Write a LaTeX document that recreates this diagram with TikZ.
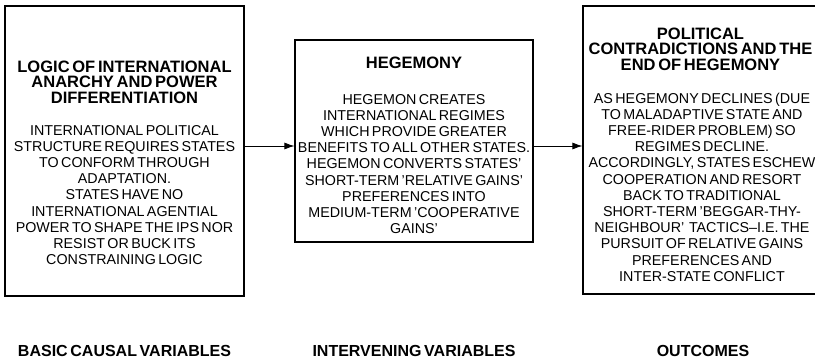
\documentclass[tikz,border=0pt]{standalone}
\usepackage{fontspec}
\setmainfont[WordSpace=0.6]{Liberation Sans}
\usetikzlibrary{arrows.meta}
\tikzset{
  box/.style={draw, line width=1.1pt, inner sep=0pt},
  head/.style={align=center, font=\fontsize{16.5pt}{15.5pt}\selectfont\bfseries},
  body/.style={align=center, font=\fontsize{14.3pt}{16.2pt}\selectfont},
  column/.style={font=\fontsize{16pt}{17pt}\selectfont\bfseries},
  flowarrow/.style={line width=0.8pt, -{Latex[length=10pt,width=7pt]}}
}
\begin{document}
\begin{tikzpicture}[x=1pt, y=-1pt]
        % Fix the page to the size of the figure
        \useasboundingbox (0,0) rectangle (815,361);

        % Draw the three boxes
        \node[box, minimum width=239pt, minimum height=290pt] (anarchy) at (124.5,151) {};
        \node[box, minimum width=238pt, minimum height=202pt] (hegemony) at (414,141) {};
        \node[box, minimum width=240pt, minimum height=288pt] (decline) at (703,150) {};

        % Headings and texts of the boxes
        \node[head] (anarchyhead) at (124.5,82) {LOGIC OF INTERNATIONAL\\ANARCHY AND POWER\\DIFFERENTIATION};
        \node[body] (anarchytext) at (124.5,195) {INTERNATIONAL POLITICAL\\STRUCTURE REQUIRES STATES\\TO CONFORM THROUGH\\ADAPTATION.\\STATES HAVE NO\\INTERNATIONAL AGENTIAL\\POWER TO SHAPE THE IPS NOR\\RESIST OR BUCK ITS\\CONSTRAINING LOGIC};

        \node[head] (hegemonyhead) at (414,63) {HEGEMONY};
        \node[body] (hegemonytext) at (414,164) {HEGEMON CREATES\\INTERNATIONAL REGIMES\\WHICH PROVIDE GREATER\\BENEFITS TO ALL OTHER STATES.\\HEGEMON CONVERTS STATES'\\SHORT-TERM 'RELATIVE GAINS'\\PREFERENCES INTO\\MEDIUM-TERM 'COOPERATIVE\\GAINS'};

        \node[head] (declinehead) at (700.5,49) {POLITICAL\\CONTRADICTIONS AND THE\\END OF HEGEMONY};
        \node[body] (declinetext) at (702,187) {AS HEGEMONY DECLINES (DUE\\TO MALADAPTIVE STATE AND\\FREE-RIDER PROBLEM) SO\\REGIMES DECLINE.\\ACCORDINGLY, STATES ESCHEW\\COOPERATION AND RESORT\\BACK TO TRADITIONAL\\SHORT-TERM 'BEGGAR-THY-\\NEIGHBOUR'\ \ TACTICS--I.E. THE\\PURSUIT OF RELATIVE GAINS\\PREFERENCES AND\\INTER-STATE CONFLICT};

        % Arrows between the boxes
        \coordinate (flow) at (0,146);
        \draw[flowarrow] (anarchy.east |- flow) -- (hegemony.west |- flow);
        \draw[flowarrow] (hegemony.east |- flow) -- (decline.west |- flow);

        % Column labels
        \node[column] (causal) at (124.5,351) {BASIC CAUSAL VARIABLES};
        \node[column] (intervening) at (414,351) {INTERVENING VARIABLES};
        \node[column] (outcomes) at (703,351) {OUTCOMES};
    \end{tikzpicture}
\end{document}
